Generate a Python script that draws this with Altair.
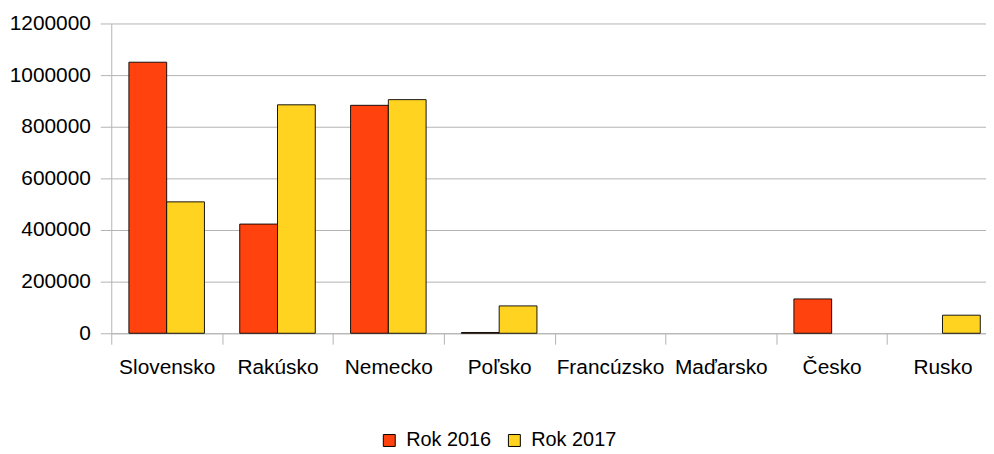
import altair as alt
import pandas as pd

countries = ["Slovensko", "Rakúsko", "Nemecko", "Poľsko", "Francúzsko", "Maďarsko", "Česko", "Rusko"]
rok2016 = [1050000, 423000, 883000, 3000, None, None, 133000, None]
rok2017 = [509000, 885000, 905000, 106000, None, None, None, 70000]
series = ["Rok 2016", "Rok 2017"]
colors = ["#ff420e", "#ffd320"]
y_ticks = [0, 200000, 400000, 600000, 800000, 1000000, 1200000]

rows = []
for c, a, b in zip(countries, rok2016, rok2017):
    rows.append({"country": c, "series": series[0], "value": a})
    rows.append({"country": c, "series": series[1], "value": b})
df = pd.DataFrame(rows)

FONT = "Liberation Sans"
GRID = "#b3b3b3"

chart = alt.Chart(df).transform_filter(
    "isValid(datum.value)"
).mark_bar(stroke="#000000", strokeWidth=1, strokeOpacity=0.9).encode(
    x=alt.X(
        "country:N",
        sort=countries,
        scale=alt.Scale(domain=countries, range=[0, 893], paddingInner=0, paddingOuter=0),
        axis=alt.Axis(
            title=None, labelAngle=0, tickBand="extent", tickSize=11,
            labelPadding=13, labelFontSize=21, labelFont=FONT, labelColor="#000000",
            domainColor=GRID, tickColor=GRID, grid=False,
        ),
    ),
    xOffset=alt.XOffset("series:N", sort=series,
                        scale=alt.Scale(domain=series, paddingInner=0, paddingOuter=0.467)),
    y=alt.Y(
        "value:Q",
        scale=alt.Scale(domain=[0, 1200000], nice=False),
        axis=alt.Axis(
            title=None, values=y_ticks, format="d", tickSize=11, labelPadding=10,
            labelFontSize=21, labelFont=FONT, labelColor="#000000",
            domainColor=GRID, tickColor=GRID, gridColor=GRID, grid=True,
        ),
    ),
    color=alt.Color(
        "series:N",
        sort=series,
        scale=alt.Scale(domain=series, range=colors),
        legend=alt.Legend(
            title=None, orient="none", direction="horizontal", legendX=270, legendY=410,
            symbolType="square", symbolSize=144, symbolStrokeColor="#000000",
            symbolStrokeWidth=1, symbolOpacity=1,
            labelFontSize=20, labelFont=FONT, labelColor="#000000",
            labelOffset=7, columnPadding=13,
        ),
    ),
).properties(
    width=881,
    height=312,
    autosize=alt.AutoSizeParams(type="none"),
    padding={"left": 104, "top": 14, "right": 0, "bottom": 120},
).configure_view(stroke=None)

chart.save("out.html", embed_options={"renderer": "svg", "actions": False})
